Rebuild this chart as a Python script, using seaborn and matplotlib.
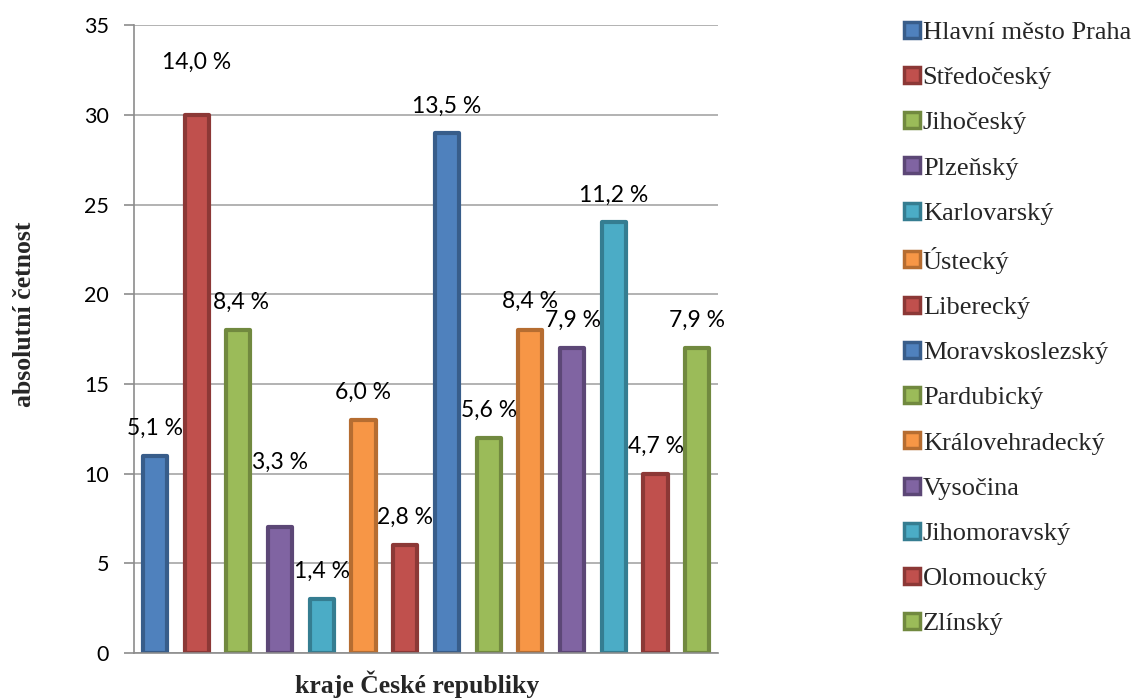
import matplotlib
matplotlib.use("Agg")
import matplotlib.pyplot as plt
import seaborn as sns
import pandas as pd
from matplotlib.lines import Line2D

regions = ["Hlavní město Praha", "Středočeský", "Jihočeský", "Plzeňský", "Karlovarský",
           "Ústecký", "Liberecký", "Moravskoslezský", "Pardubický", "Královehradecký",
           "Vysočina", "Jihomoravský", "Olomoucký", "Zlínský"]
counts = [11, 30, 18, 7, 3, 13, 6, 29, 12, 18, 17, 24, 10, 17]
pct_labels = ["5,1 %", "14,0 %", "8,4 %", "3,3 %", "1,4 %", "6,0 %", "2,8 %",
              "13,5 %", "5,6 %", "8,4 %", "7,9 %", "11,2 %", "4,7 %", "7,9 %"]
y_ticks = [0, 5, 10, 15, 20, 25, 30, 35]

# styling
fills = {"blue": "#4F81BD", "red": "#C0504D", "green": "#9BBB59",
         "purple": "#8064A2", "teal": "#4BACC6", "orange": "#F79646"}
edges = {"blue": "#385D8A", "red": "#8C3836", "green": "#71893F",
         "purple": "#5C4776", "teal": "#357D91", "orange": "#B66D31"}
color_seq = ["blue", "red", "green", "purple", "teal", "orange", "red",
             "blue", "green", "orange", "purple", "teal", "red", "green"]
label_dy = [1.55, 2.9, 1.55, 3.6, 1.55, 1.55, 1.55, 1.5, 1.52, 1.6, 1.53, 1.5, 1.54, 1.53]
label_dx = [0, 0, 0.07, 0, 0, 0, 0, 0, 0, 0, 0.02, 0, 0, 0]

sns.set_theme(style="white")
plt.rcParams["font.family"] = ["Lato", "DejaVu Sans"]

df = pd.DataFrame({"region": regions, "count": counts})
fig = plt.figure(figsize=(11.38, 6.98), dpi=100)
ax = fig.add_axes([0.1178, 0.0645, 0.5132, 0.8995])

palette = {r: fills[c] for r, c in zip(regions, color_seq)}
sns.barplot(data=df, x="region", y="count", hue="region", palette=palette,
            dodge=False, width=0.58, legend=False, ax=ax, saturation=1)
for patch, c in zip(ax.patches, color_seq):
    patch.set_edgecolor(edges[c])
    patch.set_linewidth(3)
    patch.set_joinstyle("round")

ax.set_ylim(0, 35)
ax.set_xlim(-0.5, len(regions) - 0.5)
ax.set_yticks(y_ticks)
ax.set_xticks([])
ax.yaxis.grid(True, color="#A6A6A6", linewidth=1.2)
ax.set_axisbelow(True)
for s in ["top", "right"]:
    ax.spines[s].set_visible(False)
for s in ["left", "bottom"]:
    ax.spines[s].set_color("#8C8C8C")
    ax.spines[s].set_linewidth(1.2)
ax.tick_params(axis="y", which="major", left=True, length=7, width=1.2,
               color="#8C8C8C", labelsize=15.5, pad=11, labelcolor="black")

for i, (v, lab) in enumerate(zip(counts, pct_labels)):
    ax.text(i + label_dx[i], v + label_dy[i], lab, ha="center", va="center",
            fontsize=16.5, color="black")

ax.set_ylabel("absolutní četnost", fontsize=18.5, fontweight="bold",
              family="Liberation Serif")
ax.yaxis.set_label_coords(-0.168, 0.54)
ax.set_xlabel("kraje České republiky", fontsize=18.5, fontweight="bold",
              family="Liberation Serif")
ax.xaxis.set_label_coords(0.485, -0.028)

handles = [Line2D([0], [0], marker="s", linestyle="none", markersize=11,
                  markerfacecolor=fills[c], markeredgecolor=edges[c],
                  markeredgewidth=2.5) for c in color_seq]
fig.legend(handles, regions, loc="upper left", bbox_to_anchor=(0.783, 0.986),
           frameon=False, prop={"family": "Liberation Serif", "size": 19},
           labelspacing=0.825, handletextpad=0.05, handlelength=0.75, borderaxespad=0)

fig.savefig("out.png", dpi=100)
